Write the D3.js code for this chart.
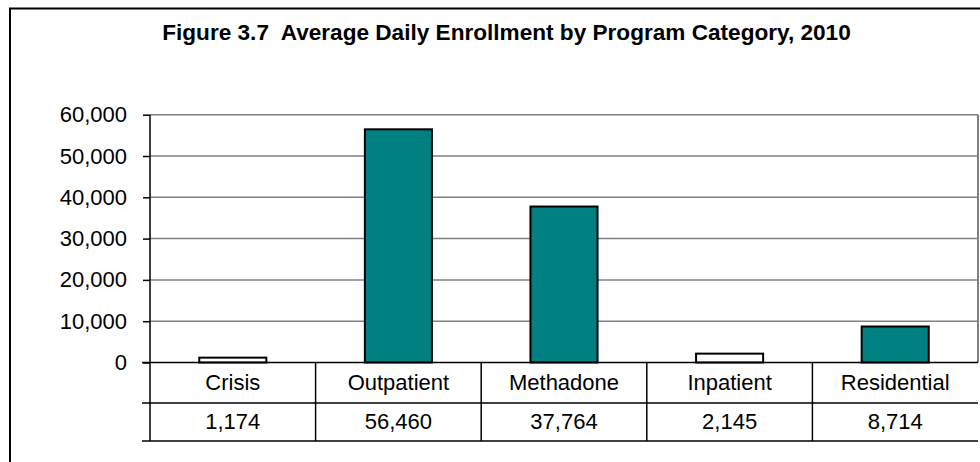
<!DOCTYPE html>
<html>
<head>
<meta charset="utf-8">
<script src="https://cdn.jsdelivr.net/npm/d3@7"></script>
<style>
  html, body { margin: 0; padding: 0; background: #fff; }
  svg { display: block; font-family: "Liberation Sans", Arial, sans-serif; }
</style>
</head>
<body>
<svg id="chart" width="980" height="462"></svg>
<script>
// ---- data ----
const categories = ["Crisis", "Outpatient", "Methadone", "Inpatient", "Residential"];
const enrollment = [1174, 56460, 37764, 2145, 8714];
const yTicks = [0, 10000, 20000, 30000, 40000, 50000, 60000];
const hollowCategories = ["Crisis", "Inpatient"];
const title = "Figure 3.7  Average Daily Enrollment by Program Category, 2010";

// ---- layout ----
const W = 980, H = 462;
const plot = { left: 150, right: 978, top: 114.7, bottom: 362.5 };
const row1Bottom = 403, row2Bottom = 441;
const fontSize = 22;

const svg = d3.select("#chart");

// outer frame
svg.append("rect")
  .attr("x", 10).attr("y", 8.5)
  .attr("width", W + 20).attr("height", H + 20)
  .attr("fill", "none").attr("stroke", "#000").attr("stroke-width", 2);

// title
const titleText = svg.append("text")
  .attr("x", 506.5).attr("y", 40)
  .attr("text-anchor", "middle")
  .attr("font-weight", "bold")
  .attr("font-size", 20)
  .style("white-space", "pre")
  .attr("xml:space", "preserve")
  .text(title);
// fit the title to the reference span (162 → 851)
const tw = titleText.node().getComputedTextLength();
if (tw > 0) titleText.attr("font-size", 20 * 689 / tw);

const x = d3.scaleBand().domain(categories).range([plot.left, plot.right]).padding(0);
const y = d3.scaleLinear().domain([0, 60000]).range([plot.bottom, plot.top]);

// gridlines
svg.append("g").selectAll("line")
  .data(yTicks.filter(t => t > 0))
  .join("line")
  .attr("x1", plot.left).attr("x2", plot.right)
  .attr("y1", d => y(d)).attr("y2", d => y(d))
  .attr("stroke", "#808080").attr("stroke-width", 1.5);

// plot area border (right side)
svg.append("line")
  .attr("x1", plot.right).attr("x2", plot.right)
  .attr("y1", plot.top).attr("y2", plot.bottom)
  .attr("stroke", "#808080").attr("stroke-width", 2);

// bars
const barW = x.bandwidth() * 0.405;
svg.append("g").selectAll("rect")
  .data(categories.map((c, i) => ({ c, v: enrollment[i] })))
  .join("rect")
  .attr("x", d => x(d.c) + (x.bandwidth() - barW) / 2)
  .attr("y", d => y(d.v))
  .attr("width", barW)
  .attr("height", d => y(0) - y(d.v))
  .attr("fill", d => hollowCategories.includes(d.c) ? "#fff" : "#008080")
  .attr("stroke", "#000").attr("stroke-width", 2);

// y axis
const yAxis = d3.axisLeft(y).tickValues(yTicks).tickFormat(d3.format(",")).tickSize(7).tickPadding(16);
const gy = svg.append("g").attr("transform", `translate(${plot.left},0)`).call(yAxis);
gy.select(".domain").attr("stroke", "#000").attr("stroke-width", 1.5)
  .attr("d", `M0,${plot.top}V${row2Bottom}`);
gy.selectAll(".tick line").attr("stroke", "#000").attr("stroke-width", 1.5);
gy.selectAll(".tick text").attr("font-size", fontSize).attr("fill", "#000")
  .attr("font-family", "Liberation Sans, Arial, sans-serif");

// data table lines
const tbl = svg.append("g");
[plot.bottom, row1Bottom, row2Bottom].forEach(yy => {
  tbl.append("line")
    .attr("x1", 142).attr("x2", plot.right)
    .attr("y1", yy).attr("y2", yy)
    .attr("stroke", "#000").attr("stroke-width", 1.5);
});
tbl.selectAll("line.col")
  .data(categories.slice(1))
  .join("line").attr("class", "col")
  .attr("x1", d => x(d)).attr("x2", d => x(d))
  .attr("y1", plot.bottom).attr("y2", row2Bottom)
  .attr("stroke", "#000").attr("stroke-width", 1.5);

// table text
tbl.selectAll("text.cat")
  .data(categories)
  .join("text").attr("class", "cat")
  .attr("x", d => x(d) + x.bandwidth() / 2)
  .attr("y", 390)
  .attr("text-anchor", "middle")
  .attr("font-size", fontSize)
  .text(d => d);

tbl.selectAll("text.val")
  .data(categories.map((c, i) => ({ c, v: enrollment[i] })))
  .join("text").attr("class", "val")
  .attr("x", d => x(d.c) + x.bandwidth() / 2)
  .attr("y", 428.5)
  .attr("text-anchor", "middle")
  .attr("font-size", fontSize)
  .text(d => d3.format(",")(d.v));
</script>
</body>
</html>
